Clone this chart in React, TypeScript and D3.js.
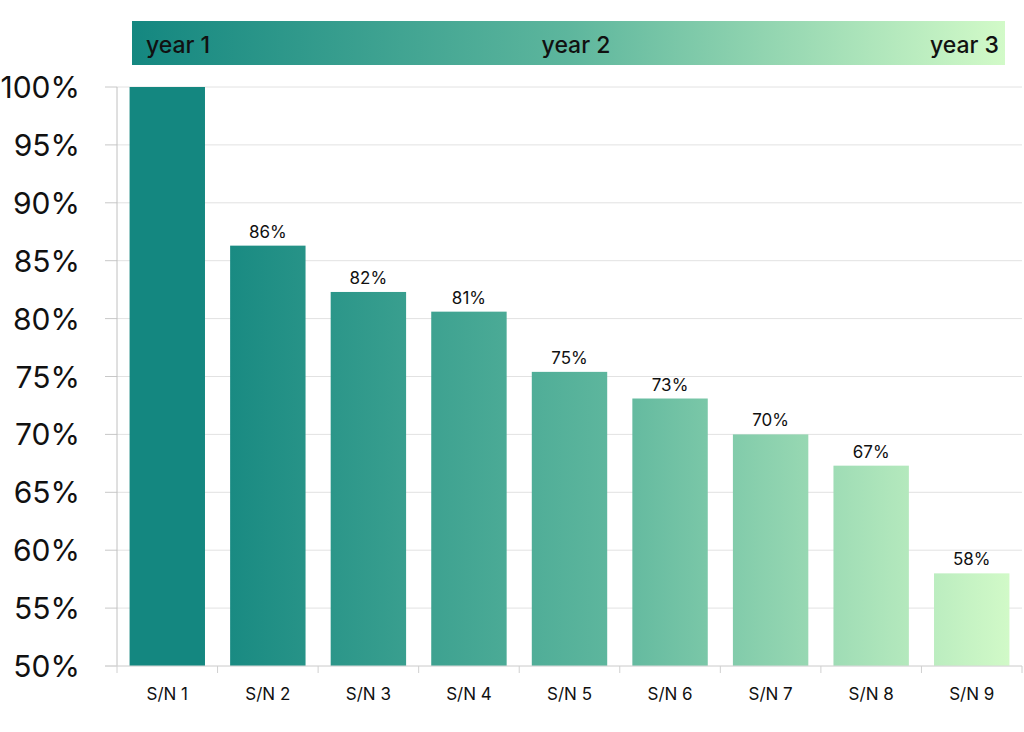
import React from "react";
import * as d3 from "d3";

const categories = ["S/N 1", "S/N 2", "S/N 3", "S/N 4", "S/N 5", "S/N 6", "S/N 7", "S/N 8", "S/N 9"];
const values = [100, 86.3, 82.3, 80.6, 75.4, 73.1, 70.0, 67.3, 58.0];
const yTicks = [50, 55, 60, 65, 70, 75, 80, 85, 90, 95, 100];
const yearLabels = ["year 1", "year 2", "year 3"];

const W = 1024;
const H = 732;
const m = { left: 117, right: 2, top: 87, bottom: 66 };
const FONT = "Inter, 'Noto Sans', sans-serif";

export default function App() {
  const x = d3
    .scaleBand<string>()
    .domain(categories)
    .range([m.left, W - m.right])
    .paddingInner(0.25)
    .paddingOuter(0.125);
  const y = d3.scaleLinear().domain([50, 100]).range([H - m.bottom, m.top]);
  const step = x.step();
  const boundaries = categories.map((_, i) => m.left + i * step).concat([W - m.right]);

  const hb = { x0: 132, x1: 1005, y0: 21, y1: 65 };

  return (
    <svg
      width={W}
      height={H}
      style={{ position: "absolute", left: 0, top: 0, background: "#fff" }}
      fontFamily={FONT}
    >
      <defs>
        <linearGradient id="barGrad" gradientUnits="userSpaceOnUse" x1={200} x2={1012} y1={0} y2={0}>
          <stop offset="0" stopColor="#148780" />
          <stop offset="0.5" stopColor="#5db69d" />
          <stop offset="1" stopColor="#d2fac8" />
        </linearGradient>
        <linearGradient id="headGrad" x1="0" x2="1" y1="0" y2="0">
          <stop offset="0" stopColor="#148780" />
          <stop offset="0.5" stopColor="#5db69d" />
          <stop offset="1" stopColor="#d2fac8" />
        </linearGradient>
      </defs>

      {/* header band */}
      <rect x={hb.x0} y={hb.y0} width={hb.x1 - hb.x0} height={hb.y1 - hb.y0} fill="url(#headGrad)" />
      <text x={hb.x0 + 14} y={53} fontSize={23} fontWeight={500} fill="#111">
        {yearLabels[0]}
      </text>
      <text x={576} y={53} fontSize={23} fontWeight={500} fill="#111" textAnchor="middle">
        {yearLabels[1]}
      </text>
      <text x={hb.x1 - 6} y={53} fontSize={23} fontWeight={500} fill="#111" textAnchor="end">
        {yearLabels[2]}
      </text>

      {/* grid */}
      {yTicks.map((t) => (
        <g key={t}>
          <line x1={m.left} x2={W - m.right} y1={y(t)} y2={y(t)} stroke="#e2e2e2" strokeWidth={1} />
          <line x1={105} x2={m.left} y1={y(t)} y2={y(t)} stroke="#c8c8c8" strokeWidth={1} />
          <text x={80} y={y(t) + 11} fontSize={30} textAnchor="end" fill="#111">
            {t}%
          </text>
        </g>
      ))}

      {/* bars */}
      {categories.map((c, i) => (
        <g key={c}>
          <rect
            x={x(c)!}
            y={y(values[i])}
            width={x.bandwidth()}
            height={y(50) - y(values[i])}
            fill="url(#barGrad)"
          />
          {i > 0 && (
            <text
              x={x(c)! + x.bandwidth() / 2}
              y={y(values[i]) - 8}
              fontSize={17}
              textAnchor="middle"
              fill="#111"
            >
              {Math.round(values[i])}%
            </text>
          )}
          <text
            x={x(c)! + x.bandwidth() / 2}
            y={700}
            fontSize={17}
            textAnchor="middle"
            fill="#111"
          >
            {c}
          </text>
        </g>
      ))}

      {/* axes */}
      <line x1={m.left} x2={m.left} y1={m.top} y2={H - m.bottom} stroke="#c0c0c0" strokeWidth={1} />
      <line x1={105} x2={W - m.right} y1={H - m.bottom} y2={H - m.bottom} stroke="#d8d8d8" strokeWidth={1} />
      {boundaries.map((b, i) => (
        <line key={i} x1={b} x2={b} y1={H - m.bottom} y2={H - m.bottom + 7} stroke="#d0d0d0" strokeWidth={1} />
      ))}
    </svg>
  );
}
